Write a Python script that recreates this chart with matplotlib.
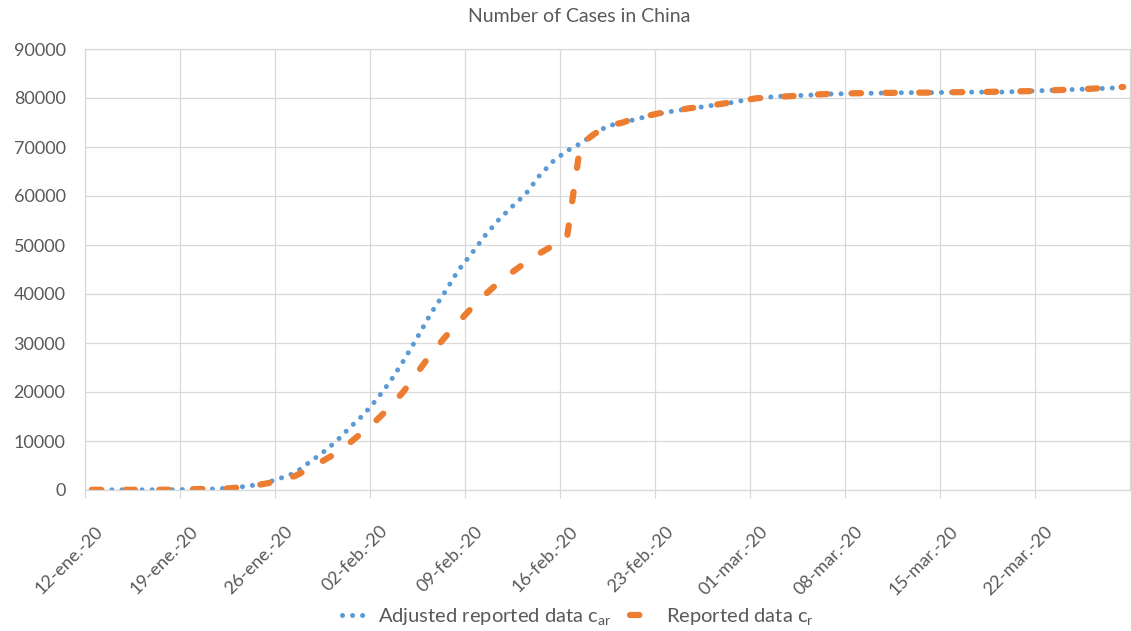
import datetime as dt

import matplotlib
matplotlib.use("Agg")
import matplotlib.dates as mdates
import matplotlib.pyplot as plt
from matplotlib.transforms import ScaledTranslation

# cumulative cases, one value per day from 12 Jan 2020 to 28 Mar 2020
START = dt.date(2020, 1, 12)

reported = [
    41, 41, 41, 41, 41, 45, 62,
    100, 200, 280, 320, 550, 900, 1400,
    2000, 2900, 4300, 5900, 7500, 9600, 11900,
    14300, 17000, 20200, 24000, 27800, 31100, 34200,
    37200, 39900, 42400, 44500, 46500, 48300, 49900,
    51200, 70500, 72600, 74400, 74900, 75800, 76400,
    77000, 77400, 77900, 78200, 78650, 79050, 79500,
    79950, 80150, 80300, 80450, 80650, 80800, 80900,
    80950, 81000, 81050, 81050, 81100, 81100, 81100,
    81150, 81200, 81200, 81250, 81300, 81350, 81400,
    81500, 81600, 81700, 81800, 81950, 82100, 82250,
]

adjusted = [
    41, 41, 41, 41, 41, 45, 62,
    100, 150, 200, 360, 630, 1000, 1600,
    2500, 3500, 5600, 7600, 9900, 12700, 15300,
    18500, 22200, 26500, 31200, 36100, 40300, 44800,
    48300, 52000, 55200, 57900, 60500, 64200, 67100,
    69200, 70700, 72600, 74300, 74900, 75600, 76300,
    76900, 77400, 77800, 78200, 78600, 79000, 79500,
    79900, 80200, 80400, 80500, 80600, 80800, 80850,
    80900, 80950, 81000, 81050, 81100, 81100, 81100,
    81150, 81200, 81200, 81200, 81200, 81300, 81400,
    81500, 81600, 81700, 81800, 81900, 82000, 82200,
]

MESES = {1: "ene", 2: "feb", 3: "mar"}
tick_days = [START + dt.timedelta(days=7 * k) for k in range(11)]
tick_labels = [f"{d.day:02d}-{MESES[d.month]}.-{d:%y}" for d in tick_days]

BLUE = "#5B9BD5"
ORANGE = "#ED7D31"
GRID = "#D9D9D9"
TEXT = "#595959"

plt.rcParams["font.family"] = ["Lato", "DejaVu Sans"]
plt.rcParams["text.color"] = TEXT

fig = plt.figure(figsize=(11.31, 6.31), dpi=100)
ax = fig.add_axes([85 / 1131, 1 - 490 / 631, 1045 / 1131, 441 / 631])

dates = [START + dt.timedelta(days=i) for i in range(len(reported))]
x = mdates.date2num(dates) + 0.5  # points sit in the middle of each day

ax.plot(x, adjusted, color=BLUE, lw=3.6, linestyle=(0, (0.01, 2.0)),
        dash_capstyle="round", label=r"Adjusted reported data c$_{\mathregular{ar}}$")
ax.plot(x, reported, color=ORANGE, lw=4.5, linestyle=(0, (1.5, 3.9)),
        dash_capstyle="round", label=r"Reported data c$_{\mathregular{r}}$")

ax.set_xlim(mdates.date2num(START), mdates.date2num(START + dt.timedelta(days=77)))
ax.set_ylim(0, 90000)
ax.set_yticks(range(0, 90001, 10000))
ax.set_xticks(mdates.date2num(tick_days))
ax.set_xticklabels(tick_labels, rotation=45, ha="right", va="center",
                   rotation_mode="anchor")

ax.grid(True, color=GRID, lw=0.9)
ax.set_axisbelow(True)
for sp in ax.spines.values():
    sp.set_color(GRID)
    sp.set_linewidth(0.9)
ax.tick_params(axis="y", length=0, pad=14, labelsize=13, labelcolor=TEXT)
ax.tick_params(axis="x", length=6, width=0.9, color=GRID, pad=10,
               labelsize=13, labelcolor=TEXT)

# push the slanted date labels down and to the right of their ticks
shift = ScaledTranslation(0.155, -0.165, fig.dpi_scale_trans)
for lab in ax.xaxis.get_majorticklabels():
    lab.set_transform(lab.get_transform() + shift)

fig.text(579 / 1131, 1 - 16 / 631, "Number of Cases in China",
         ha="center", va="center", fontsize=14, color=TEXT)

fig.legend(loc="center", bbox_to_anchor=(578 / 1131, 1 - 617 / 631), ncol=2,
           frameon=False, fontsize=14.5, handlelength=1.1, columnspacing=0.9,
           handletextpad=0.7, labelcolor=TEXT)

fig.savefig("out.png", dpi=100)
